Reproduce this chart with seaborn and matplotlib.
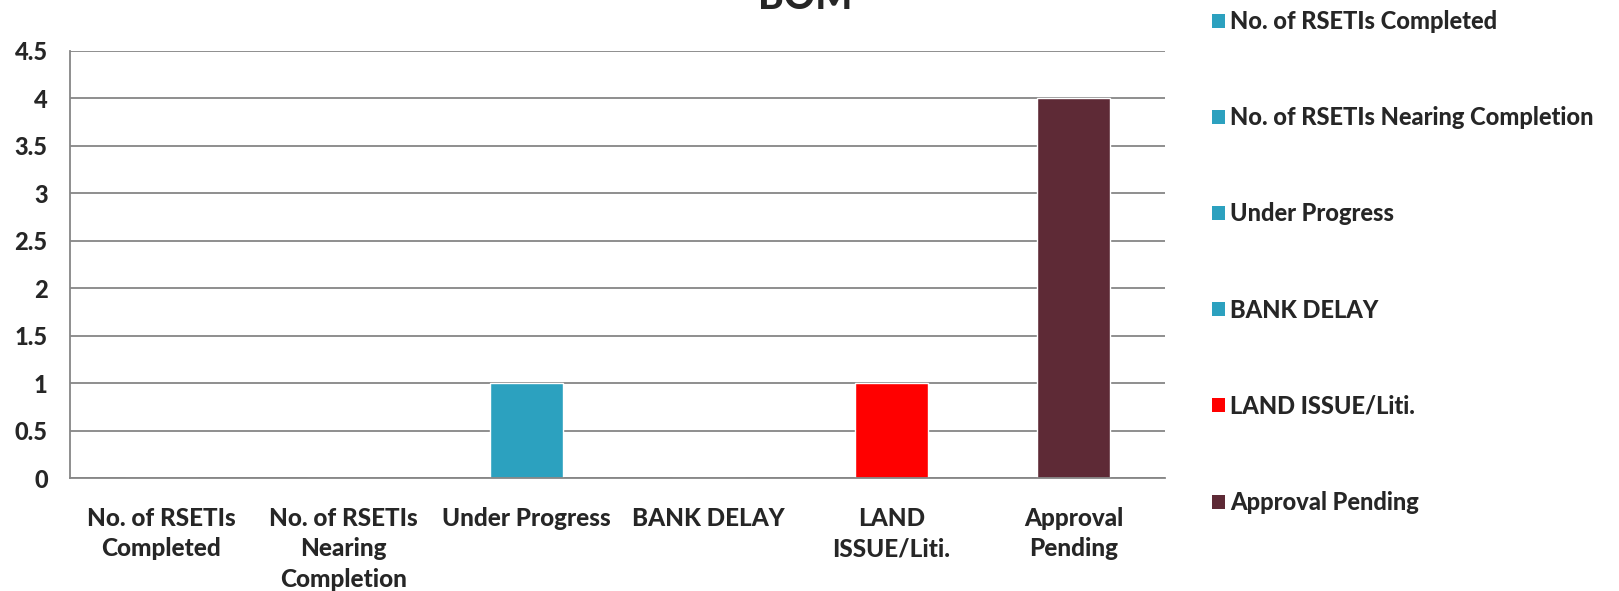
import matplotlib
matplotlib.use("Agg")
import matplotlib.pyplot as plt
import matplotlib.ticker as mtick
from matplotlib.patches import Patch
import pandas as pd
import seaborn as sns

categories = ["No. of RSETIs Completed", "No. of RSETIs Nearing Completion",
              "Under Progress", "BANK DELAY", "LAND ISSUE/Liti.", "Approval Pending"]
tick_labels = ["No. of RSETIs\nCompleted", "No. of RSETIs\nNearing\nCompletion",
               "Under Progress", "BANK DELAY", "LAND\nISSUE/Liti.", "Approval\nPending"]
values = [0, 0, 1, 0, 1, 4]
colors = ["#2CA1BF", "#2CA1BF", "#2CA1BF", "#2CA1BF", "#FF0000", "#5E2A36"]
title = "BOM"

sns.set_style("white")
plt.rcParams['font.family'] = ['Lato', 'DejaVu Sans']
W = "black"

df = pd.DataFrame({"category": categories, "value": values})
palette = dict(zip(categories, colors))

fig = plt.figure(figsize=(16.19, 5.91), dpi=100)
ax = fig.add_axes([0.0432, 0.1912, 0.6764, 0.7232])

sns.barplot(data=df, x="category", y="value", hue="category", palette=palette,
            order=categories, hue_order=categories, width=0.4, dodge=False,
            saturation=1, legend=False, ax=ax)

grid_c = "#868686"
ax.set_ylim(0, 4.5)
ax.set_xlim(-0.5, len(categories) - 0.5)
ax.yaxis.set_major_locator(mtick.MultipleLocator(0.5))
ax.yaxis.set_major_formatter(mtick.FuncFormatter(lambda v, p: f"{v:g}"))
ax.grid(axis="y", color=grid_c, linewidth=1.3)
ax.set_axisbelow(True)
for s in ["top", "right"]:
    ax.spines[s].set_visible(False)
for s in ["left", "bottom"]:
    ax.spines[s].set_color(grid_c)
    ax.spines[s].set_linewidth(1.3)

# ticks at category boundaries, labels at centres
ax.set_xticks([i - 0.5 for i in range(len(categories) + 1)])
ax.set_xticklabels([])
ax.set_xticks(range(len(categories)), minor=True)
ax.set_xticklabels(tick_labels, minor=True, fontsize=17.5, fontweight=W,
                   linespacing=1.38)
ax.tick_params(axis="x", which="major", length=6, width=1.3, color=grid_c, direction="out")
ax.tick_params(axis="x", which="minor", length=0, pad=21)
ax.tick_params(axis="y", length=6, width=1.3, color=grid_c, direction="out", pad=10,
               labelsize=17)
for t in ax.get_yticklabels():
    t.set_fontweight(W)
ax.set_xlabel("")
ax.set_ylabel("")

handles = [Patch(facecolor=c, edgecolor="none") for c in colors]
leg = fig.legend(handles, categories, loc="upper left", bbox_to_anchor=(0.7355, 1.019),
                 frameon=False, prop={"size": 17, "weight": W},
                 handlelength=0.53, handleheight=0.53, handletextpad=0.22,
                 labelspacing=3.1)

fig.text(0.497, 1 - 16 / 591, title, ha="center", va="bottom", fontsize=28,
         fontweight=W)

fig.savefig("out.png", dpi=100)
